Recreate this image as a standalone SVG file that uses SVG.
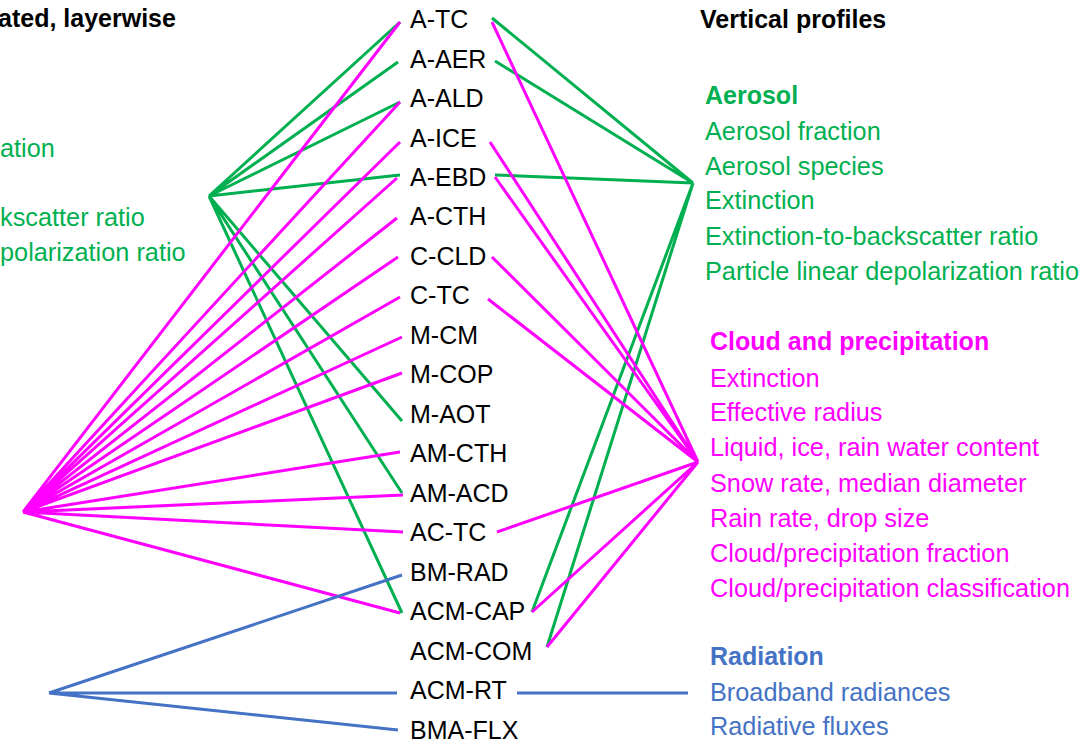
<svg xmlns="http://www.w3.org/2000/svg" width="1082" height="743" viewBox="0 0 1082 743">
<style>
text{font-family:"Liberation Sans",Arial,sans-serif;font-size:25.3px}
.lbl{font-size:25px;fill:#000}
.b{font-weight:bold;font-size:25px}
.k{fill:#000}
.g{fill:#00B050}
.m{fill:#FF00FF}
.u{fill:#4472C4}
.lg{stroke:#00B050;stroke-width:3;fill:none}
.lm{stroke:#FF00FF;stroke-width:3;fill:none}
.lu{stroke:#4472C4;stroke-width:3;fill:none}
</style>
<rect width="1082" height="743" fill="#fff"/>
<g id="left-texts">
<text x="-2" y="27" class="b k">ated, layerwise</text>
<text x="0" y="157" class="g">ation</text>
<text x="0" y="226" class="g">kscatter ratio</text>
<text x="0" y="261" class="g">polarization ratio</text>
</g>
<g id="connectors">
<g class="lg">
<path d="M209 196L400 22M209 196L398 62M209 196L400 102M209 196L400 175M209 196L402 421M209 196L402 493M209 196L402 613"/>
<path d="M492 18L693 183M495 61L693 183M495 175L693 183M532 612L693 183M547 647L693 183"/>
</g>
<g class="lm">
<path d="M23 512L400 22M23 512L400 102M23 512L400 142M23 512L397 178M23 512L397 218M23 512L398 257M23 512L400 297M23 512L402 337M23 512L402 373M23 512L400 452M23 512L403 495M23 512L403 532M23 512L400 613"/>
<path d="M492 22L698 462M490 142L698 462M495 177L698 462M492 257L698 462M488 299L698 462M497 532L698 462M532 612L698 462M547 647L698 462"/>
</g>
<g class="lu">
<path d="M49 693L402 575M49 693L397 693M49 693L398 730M517 693L688 693"/>
</g>
</g>
<g id="node-A-TC"><text x="410" y="28" class="lbl">A-TC</text></g>
<g id="node-A-AER"><text x="410" y="67.5" class="lbl">A-AER</text></g>
<g id="node-A-ALD"><text x="410" y="107" class="lbl">A-ALD</text></g>
<g id="node-A-ICE"><text x="410" y="146.5" class="lbl">A-ICE</text></g>
<g id="node-A-EBD"><text x="410" y="186" class="lbl">A-EBD</text></g>
<g id="node-A-CTH"><text x="410" y="225" class="lbl">A-CTH</text></g>
<g id="node-C-CLD"><text x="410" y="264.5" class="lbl">C-CLD</text></g>
<g id="node-C-TC"><text x="410" y="304" class="lbl">C-TC</text></g>
<g id="node-M-CM"><text x="410" y="343.5" class="lbl">M-CM</text></g>
<g id="node-M-COP"><text x="410" y="383" class="lbl">M-COP</text></g>
<g id="node-M-AOT"><text x="410" y="422.5" class="lbl">M-AOT</text></g>
<g id="node-AM-CTH"><text x="410" y="462" class="lbl">AM-CTH</text></g>
<g id="node-AM-ACD"><text x="410" y="501.5" class="lbl">AM-ACD</text></g>
<g id="node-AC-TC"><text x="410" y="541" class="lbl">AC-TC</text></g>
<g id="node-BM-RAD"><text x="410" y="580.5" class="lbl">BM-RAD</text></g>
<g id="node-ACM-CAP"><text x="410" y="620" class="lbl">ACM-CAP</text></g>
<g id="node-ACM-COM"><text x="410" y="659.5" class="lbl">ACM-COM</text></g>
<g id="node-ACM-RT"><text x="410" y="699" class="lbl">ACM-RT</text></g>
<g id="node-BMA-FLX"><text x="410" y="738.5" class="lbl">BMA-FLX</text></g>
<g id="right-title"><text x="700" y="28" class="b k">Vertical profiles</text></g>
<g id="node-aerosol">
<text x="705" y="104" class="b g">Aerosol</text>
<text x="705" y="140" class="g">Aerosol fraction</text>
<text x="705" y="175" class="g">Aerosol species</text>
<text x="705" y="209" class="g">Extinction</text>
<text x="705" y="245" class="g">Extinction-to-backscatter ratio</text>
<text x="705" y="280" class="g">Particle linear depolarization ratio</text>
</g>
<g id="node-cloud">
<text x="710" y="350" class="b m">Cloud and precipitation</text>
<text x="710" y="387" class="m">Extinction</text>
<text x="710" y="421" class="m">Effective radius</text>
<text x="710" y="456" class="m">Liquid, ice, rain water content</text>
<text x="710" y="492" class="m">Snow rate, median diameter</text>
<text x="710" y="527" class="m">Rain rate, drop size</text>
<text x="710" y="562" class="m">Cloud/precipitation fraction</text>
<text x="710" y="597" class="m">Cloud/precipitation classification</text>
</g>
<g id="node-radiation">
<text x="710" y="665" class="b u">Radiation</text>
<text x="710" y="701" class="u">Broadband radiances</text>
<text x="710" y="735" class="u">Radiative fluxes</text>
</g>
</svg>
